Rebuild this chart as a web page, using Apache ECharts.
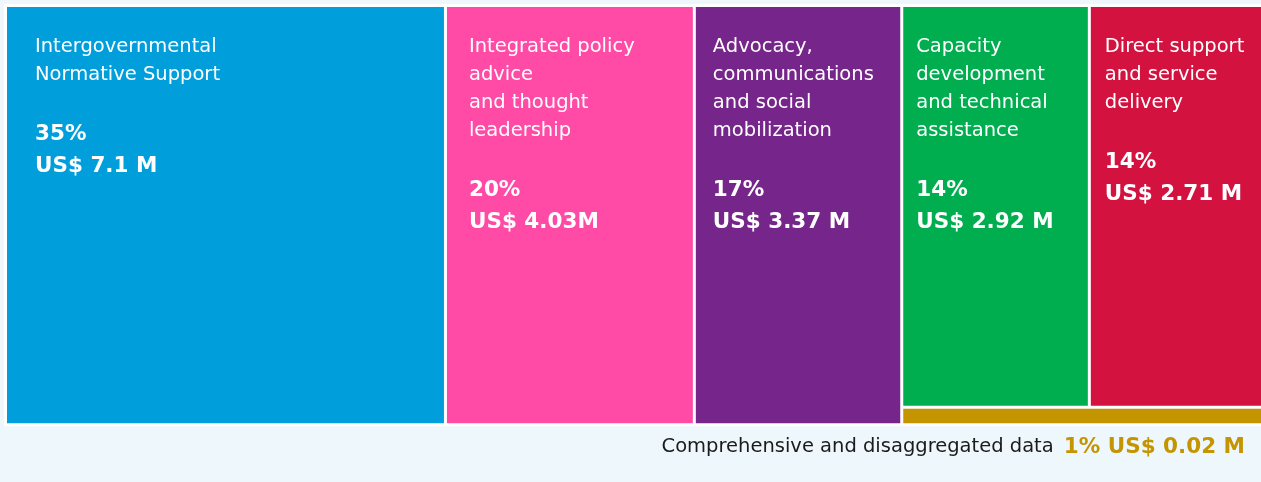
<!DOCTYPE html>
<html>
<head>
<meta charset="utf-8">
<title>Treemap</title>
<script src="https://cdn.jsdelivr.net/npm/echarts@6/dist/echarts.min.js"></script>
<style>
  html, body { margin: 0; padding: 0; background: #EEF7FC; }
  #chart { width: 1261px; height: 482px; }
</style>
</head>
<body>
<div id="chart"></div>
<script>
// categories (line breaks as in the picture)
var categories = [
  'Intergovernmental\nNormative Support',
  'Integrated policy\nadvice\nand thought\nleadership',
  'Advocacy,\ncommunications\nand social\nmobilization',
  'Capacity\ndevelopment\nand technical\nassistance',
  'Direct support\nand service\ndelivery',
  'Comprehensive and disaggregated data'
];
var shareLabels = ['35%', '20%', '17%', '14%', '14%', '1%'];
var amountLabels = ['US$ 7.1 M', 'US$ 4.03M', 'US$ 3.37 M', 'US$ 2.92 M', 'US$ 2.71 M', 'US$ 0.02 M'];
// area weights (share of the whole box)
var areaValues = [35.0, 19.8, 16.5, 14.3, 13.2, 1.2];

var colors = ['#009EDB', '#FF4AA6', '#76268A', '#00AE4F', '#D3123F', '#C49500'];
var labelLeft = [28, 22, 17, 13, 14, 0];

var fontName = '"DejaVu Sans", sans-serif';

function makeLabel(i) {
  var nameLines = categories[i].split('\n').map(function (s) {
    return '{n|' + s + '}';
  }).join('\n');
  return nameLines + '\n\n{p|' + shareLabels[i] + '}\n{a|' + amountLabels[i] + '}';
}

function leaf(i) {
  return {
    name: categories[i],
    value: areaValues[i],
    itemStyle: { color: colors[i] },
    label: {
      show: i < 5,
      padding: [26, 0, 0, labelLeft[i]],
      formatter: makeLabel(i)
    }
  };
}

var treeData = [
  leaf(0),
  leaf(1),
  leaf(2),
  {
    name: 'right',
    label: { show: false },
    children: [leaf(3), leaf(4), leaf(5)]
  }
];

var chart = echarts.init(document.getElementById('chart'));

var option = {
  backgroundColor: '#EEF7FC',
  animation: false,
  title: {
    right: 16,
    top: 433,
    padding: 0,
    text: '{d|' + categories[5] + '}  {g|' + shareLabels[5] + ' ' + amountLabels[5] + '}',
    textStyle: {
      fontWeight: 'normal',
      rich: {
        d: { fontFamily: fontName, fontSize: 19.5, fontWeight: 'normal', color: '#1B1B1B', lineHeight: 28 },
        g: { fontFamily: fontName, fontSize: 21.5, fontWeight: 'bold', color: '#C49500', lineHeight: 28 }
      }
    }
  },
  series: [{
    type: 'treemap',
    left: 4,
    top: 4,
    width: 1260,
    height: 422.3,
    sort: false,
    squareRatio: 1.175,
    roam: false,
    nodeClick: false,
    breadcrumb: { show: false },
    visibleMin: 0,
    label: {
      show: true,
      position: 'insideTopLeft',
      distance: 0,
      color: '#fff',
      fontFamily: fontName,
      fontSize: 19.5,
      lineHeight: 28,
      rich: {
        n: { fontFamily: fontName, fontSize: 19.5, lineHeight: 28, color: '#fff' },
        p: { fontFamily: fontName, fontSize: 21.5, fontWeight: 'bold', lineHeight: 34, color: '#fff' },
        a: { fontFamily: fontName, fontSize: 21.5, fontWeight: 'bold', lineHeight: 31, color: '#fff' }
      }
    },
    itemStyle: { borderColor: '#fff' },
    levels: [
      { itemStyle: { borderWidth: 3, gapWidth: 3, borderColor: '#fff' } },
      { itemStyle: { borderWidth: 0, gapWidth: 3, borderColor: '#fff' } },
      { itemStyle: { borderWidth: 0, gapWidth: 0 } }
    ],
    emphasis: { disabled: true },
    data: treeData
  }]
};

chart.setOption(option);
</script>
</body>
</html>
